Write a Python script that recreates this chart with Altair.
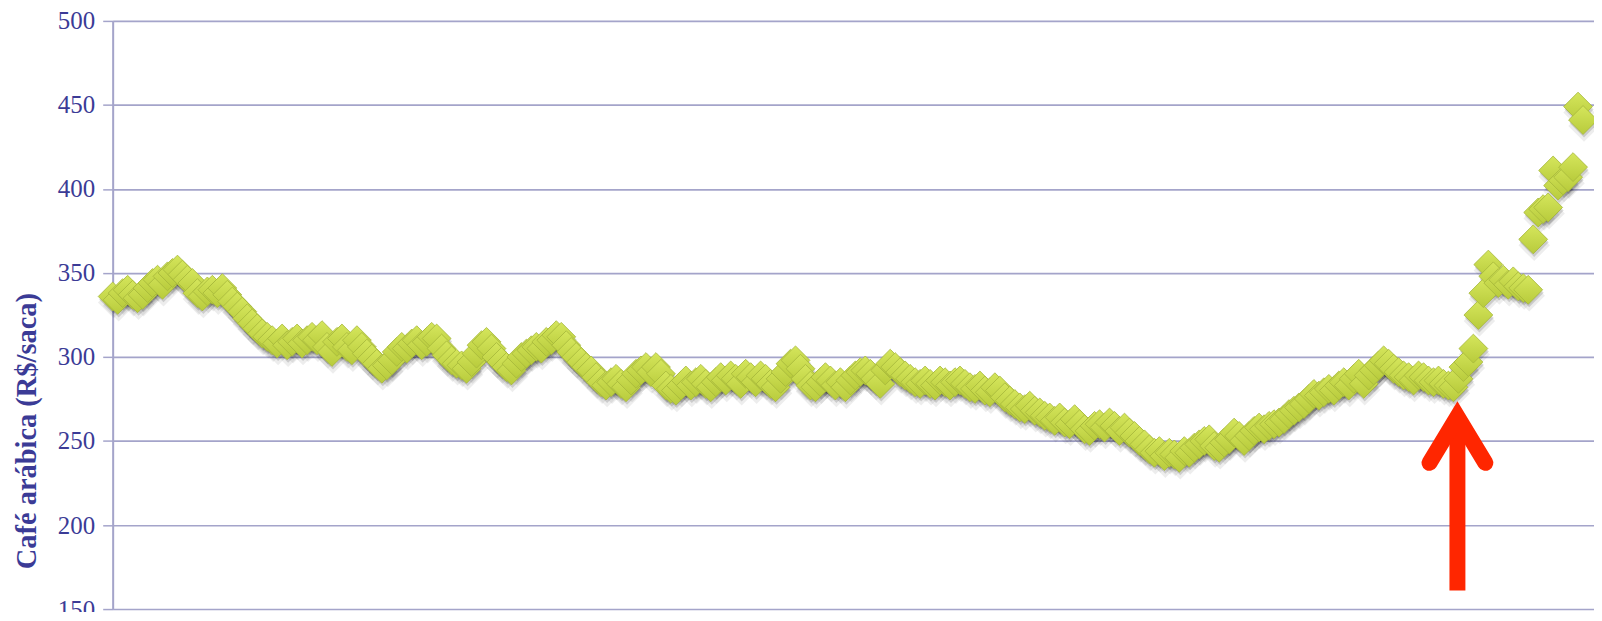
import altair as alt
import pandas as pd

# Café arábica price (R$/saca), one value per trading day
prices = [
    336, 334, 338, 340, 337, 335, 337, 341, 344, 346,
    343, 348, 350, 352, 349, 346, 344, 338, 336, 339,
    340, 338, 341, 337, 333, 330, 327, 323, 320, 317,
    314, 312, 310, 308, 311, 307, 309, 311, 308, 310,
    312, 310, 313, 306, 303, 309, 311, 306, 304, 310,
    306, 302, 299, 296, 293, 295, 298, 303, 306, 305,
    308, 310, 307, 309, 312, 311, 305, 301, 298, 296,
    295, 293, 297, 302, 307, 309, 305, 300, 297, 294,
    292, 296, 300, 302, 304, 306, 305, 309, 310, 313,
    312, 307, 303, 300, 297, 294, 292, 288, 285, 283,
    285, 287, 284, 282, 286, 290, 292, 294, 291, 294,
    290, 283, 281, 280, 283, 286, 283, 285, 287, 284,
    282, 285, 288, 286, 289, 287, 284, 290, 288, 285,
    289, 287, 284, 282, 287, 291, 296, 298, 293, 287,
    283, 282, 285, 288, 286, 283, 285, 282, 286, 289,
    291, 292, 290, 287, 284, 292, 296, 294, 291, 289,
    287, 285, 284, 286, 284, 283, 286, 285, 283, 285,
    286, 284, 282, 281, 283, 280, 279, 282, 280, 276,
    274, 272, 270, 269, 271, 268, 267, 265, 264, 262,
    264, 261, 260, 263, 260, 257, 256, 259, 260, 258,
    261, 259, 256, 258, 255, 253, 250, 248, 245, 243,
    244, 241, 243, 242, 240, 244, 243, 246, 248, 250,
    251, 247, 246, 249, 251, 255, 253, 250, 253, 256,
    258, 257, 259, 260, 261, 263, 266, 268, 270, 272,
    275, 278, 277, 279, 281, 280, 283, 285, 283, 287,
    290, 284, 289, 292, 295, 298, 296, 293, 291, 289,
    288, 286, 289, 288, 286, 285, 286, 284, 283, 282,
    287, 294, 297, 305, 325, 338, 355, 348, 344, 346,
    343, 345, 342, 341, 340, 370, 386, 388, 389, 411,
    402, 405, 407, 413, 449, 441,
]
day = list(range(len(prices)))

# Red annotation arrow (in data units: day index, R$/saca)
arrow_shaft_x = [269.8]
arrow_shaft_y = [161.0]
arrow_shaft_y2 = [264.0]
arrow_head_x = [264.2, 269.8, 275.4]
arrow_head_y = [237.0, 264.5, 237.0]

y_ticks = [150, 200, 250, 300, 350, 400, 450, 500]

df = pd.DataFrame({"day": day, "price": prices})
shaft_df = pd.DataFrame({"x": arrow_shaft_x, "y": arrow_shaft_y, "y2": arrow_shaft_y2})
head_df = pd.DataFrame({"x": arrow_head_x, "y": arrow_head_y})

BLUE = "#3B3B96"
GRID = "#A4A4CA"

xscale = alt.Scale(domain=[0, 297.2], nice=False, zero=False)
yscale = alt.Scale(domain=[150, 500], nice=False, zero=False)

x_enc = alt.X("day:Q", scale=xscale, axis=None)
y_enc = alt.Y(
    "price:Q",
    scale=yscale,
    axis=alt.Axis(
        values=y_ticks,
        title="Café arábica (R$/saca)",
        titleFont="Liberation Serif",
        titleFontSize=28.5,
        titleFontWeight="bold",
        titleColor=BLUE,
        titleX=-86,
        titleY=411,
        titleAngle=-90,
        titleAlign="center",
        titleBaseline="middle",
        labelFont="Liberation Serif",
        labelFontSize=25,
        labelColor=BLUE,
        labelPadding=8,
        tickSize=10,
        tickColor=GRID,
        tickWidth=1.5,
        domainColor=GRID,
        domainWidth=2,
        grid=True,
        gridColor=GRID,
        gridWidth=1.6,
        gridOpacity=1,
    ),
)

shadow1 = alt.Chart(df).mark_point(
    shape="diamond", filled=True, size=1000, color="#000000", opacity=0.07, yOffset=6, xOffset=1
).encode(x=x_enc, y=y_enc)

shadow2 = alt.Chart(df).mark_point(
    shape="diamond", filled=True, size=850, color="#000000", opacity=0.14, yOffset=3, xOffset=1
).encode(x=x_enc, y=y_enc)

points = alt.Chart(df).mark_point(
    shape="diamond",
    filled=True,
    size=840,
    opacity=1,
    fill=alt.Gradient(
        gradient="linear",
        stops=[
            alt.GradientStop(color="#D5E65C", offset=0),
            alt.GradientStop(color="#B8CB3C", offset=1),
        ],
        x1=0, x2=0, y1=0, y2=1,
    ),
    stroke="#A4B63A",
    strokeWidth=0.8,
).encode(x=x_enc, y=y_enc)

shaft = alt.Chart(shaft_df).mark_rule(color="#FF2600", strokeWidth=16, strokeCap="butt").encode(
    x=alt.X("x:Q", scale=xscale, axis=None),
    y=alt.Y("y:Q", scale=yscale),
    y2="y2:Q",
)

head = alt.Chart(head_df).mark_line(
    color="#FF2600", strokeWidth=16, strokeCap="round", strokeJoin="miter", strokeMiterLimit=10
).encode(
    x=alt.X("x:Q", scale=xscale, axis=None),
    y=alt.Y("y:Q", scale=yscale),
)

chart = (
    alt.layer(shadow1, shadow2, points, shaft, head)
    .properties(
        width=1486,
        height=590,
        autosize=alt.AutoSizeParams(type="none"),
        padding={"left": 105, "top": 12, "right": 0, "bottom": 2},
    )
    .configure_view(stroke=None)
    .configure(background="white")
)

chart.save("out.html", embed_options={"renderer": "svg", "actions": False})
